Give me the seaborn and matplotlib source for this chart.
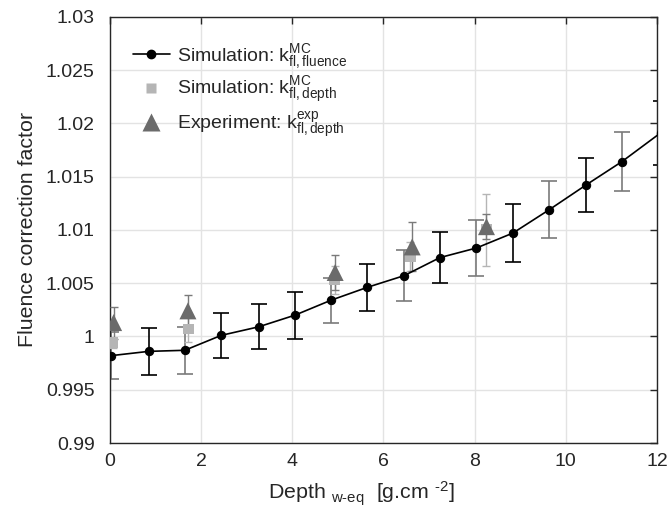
import matplotlib
matplotlib.use("Agg")
import matplotlib.pyplot as plt
import seaborn as sns
import numpy as np
import pandas as pd
from matplotlib.lines import Line2D
from matplotlib.ticker import FuncFormatter

# ---- data ----
fl_depth = [0.03, 0.85, 1.64, 2.44, 3.26, 4.06, 4.85, 5.64, 6.45, 7.24, 8.04, 8.84, 9.64, 10.44, 11.23, 12.08]
fl_value = [0.9982, 0.9986, 0.9987, 1.0001, 1.0009, 1.0020, 1.0034, 1.0046, 1.0057, 1.0074, 1.0083, 1.0097, 1.0119, 1.0142, 1.0164, 1.0191]
fl_err = [0.0022, 0.0022, 0.0022, 0.0021, 0.0021, 0.0022, 0.0021, 0.0022, 0.0024, 0.0024, 0.0026, 0.0027, 0.0027, 0.0025, 0.0028, 0.0030]
fl_err_gray = [True, False, True, False, False, False, True, False, True, False, True, False, True, False, True, False]

dp_depth = [0.06, 1.72, 4.93, 6.59, 8.26]
dp_value = [0.9994, 1.0007, 1.0053, 1.0075, 1.0100]
dp_err = [0.0005, 0.0012, 0.0013, 0.0014, 0.0034]

ex_depth = [0.08, 1.71, 4.94, 6.63, 8.26]
ex_value = [1.0013, 1.0024, 1.0060, 1.0084, 1.0103]
ex_err = [0.0015, 0.0015, 0.0016, 0.0023, 0.0012]

xticks = [0, 2, 4, 6, 8, 10, 12]
yticks = [0.99, 0.995, 1.0, 1.005, 1.01, 1.015, 1.02, 1.025, 1.03]

sns.set_style("white")
plt.rcParams['font.family'] = ['Liberation Sans', 'DejaVu Sans']
plt.rcParams['mathtext.fontset'] = 'custom'
plt.rcParams['mathtext.rm'] = 'Liberation Sans'
plt.rcParams['mathtext.it'] = 'Liberation Sans:italic'

fig = plt.figure(figsize=(6.69, 5.19), dpi=100)
ax = fig.add_axes([0.1644, 0.1464, 0.8176, 0.8214])

C_BLACK = '#000000'
C_GRAYBAR = '#7a7a7a'
C_SQ = '#b5b5b5'
C_TRI = '#6b6b6b'
C_TXT = '#262626'

# fluence error bars
for x, y, e, g in zip(fl_depth, fl_value, fl_err, fl_err_gray):
    ax.errorbar([x], [y], yerr=[e], fmt='none', ecolor=C_GRAYBAR if g else C_BLACK,
                elinewidth=1.2, capsize=6, capthick=1.2, zorder=2)

# depth (MC) error bars
ax.errorbar(dp_depth, dp_value, yerr=dp_err, fmt='none', ecolor=C_SQ,
            elinewidth=1.0, capsize=3, capthick=1.0, zorder=3)
# experiment error bars
ax.errorbar(ex_depth, ex_value, yerr=ex_err, fmt='none', ecolor=C_GRAYBAR,
            elinewidth=1.0, capsize=3, capthick=1.0, zorder=3)

df_dp = pd.DataFrame({'depth': dp_depth, 'value': dp_value})
df_ex = pd.DataFrame({'depth': ex_depth, 'value': ex_value})
df_fl = pd.DataFrame({'depth': fl_depth, 'value': fl_value})

sns.scatterplot(data=df_dp, x='depth', y='value', ax=ax, marker='s', s=60,
                color=C_SQ, edgecolor='none', zorder=4)
sns.scatterplot(data=df_ex, x='depth', y='value', ax=ax, marker='^', s=150,
                color=C_TRI, edgecolor='none', zorder=4)
sns.lineplot(data=df_fl, x='depth', y='value', ax=ax, color=C_BLACK, lw=1.2,
             marker='o', markersize=6, markeredgecolor=C_BLACK, zorder=5)

ax.set_xlim(0, 12)
ax.set_ylim(0.99, 1.03)
ax.set_xticks(xticks)
ax.set_yticks(yticks)
ax.yaxis.set_major_formatter(FuncFormatter(lambda v, p: ('%.3f' % v).rstrip('0').rstrip('.')))
ax.grid(True, color='#e3e3e3', lw=1.0)
ax.set_axisbelow(True)
for s in ax.spines.values():
    s.set_color(C_TXT)
    s.set_linewidth(1.0)
ax.tick_params(direction='in', length=5, width=1.0, colors=C_TXT, labelsize=14,
               top=True, right=True, labelcolor=C_TXT)
ax.tick_params(axis='y', pad=11)
ax.tick_params(axis='x', pad=7)

ax.set_ylabel('Fluence correction factor', fontsize=15.4, color=C_TXT, labelpad=6)
ax.set_xlabel(r'Depth $_{\mathrm{w\text{-}eq}}$  [g.cm $^{\mathrm{\text{-}2}}$]', fontsize=15.4,
              color=C_TXT)
ax.xaxis.set_label_coords(0.46, -0.085)

handles = [
    Line2D([0], [0], color=C_BLACK, lw=1.2, marker='o', markersize=6),
    Line2D([0], [0], color=C_SQ, lw=0, marker='s', markersize=7, markeredgecolor='none'),
    Line2D([0], [0], color=C_TRI, lw=0, marker='^', markersize=13, markeredgecolor='none'),
]
labels = [
    r'Simulation: k$^{\mathrm{MC}}_{\mathrm{fl,fluence}}$',
    r'Simulation: k$^{\mathrm{MC}}_{\mathrm{fl,depth}}$',
    r'Experiment: k$^{\mathrm{exp}}_{\mathrm{fl,depth}}$',
]
ax.legend(handles, labels, loc='upper left', frameon=False, fontsize=14,
          bbox_to_anchor=(0.042, 0.94), handlelength=1.9, handletextpad=0.35,
          labelspacing=0.22, borderaxespad=0.0, borderpad=0.0)

fig.savefig('out.png', dpi=100)
